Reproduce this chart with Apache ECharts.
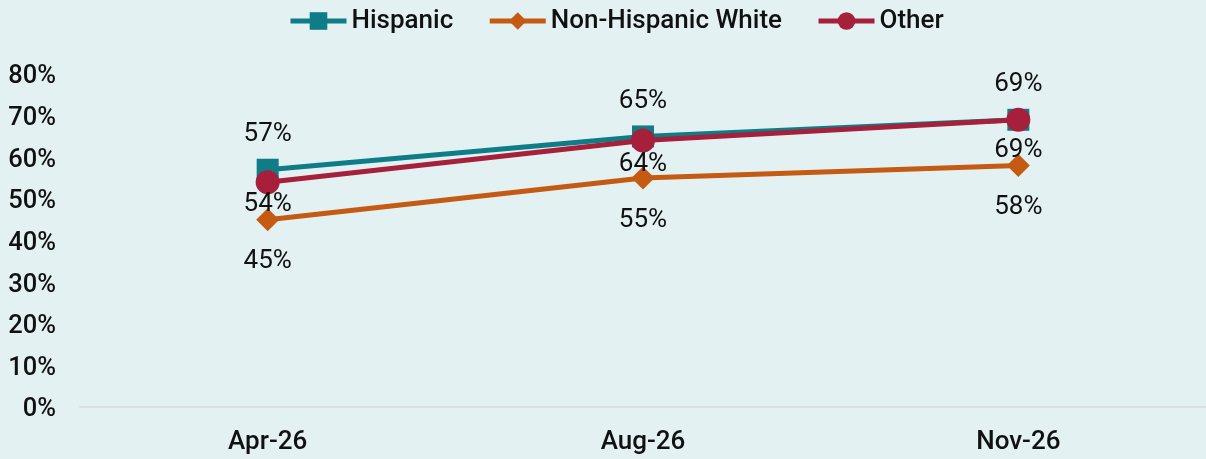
<!DOCTYPE html>
<html>
<head>
<meta charset="utf-8">
<script src="https://cdn.jsdelivr.net/npm/echarts@6/dist/echarts.min.js"></script>
<style>
  html, body { margin: 0; padding: 0; background: #e3f1f2; }
  #chart { width: 1206px; height: 459px; }
</style>
</head>
<body>
<div id="chart"></div>
<script>
// Survey waves and share (%) per group
const categories = ['Apr-26', 'Aug-26', 'Nov-26'];
const hispanic = [57, 65, 69];
const nonHispanicWhite = [45, 55, 58];
const other = [54, 64, 69];
const yTicks = [0, 10, 20, 30, 40, 50, 60, 70, 80];

// vertical nudge of each series' value labels (px, + is down)
const otherLabelDy = [22, 24, 31];

const chart = echarts.init(document.getElementById('chart'));

function lineSeries(name, data, color, symbol, size, dy) {
  return {
    name: name,
    type: 'line',
    data: data.map((v, i) => ({
      value: v,
      label: { offset: [0, Array.isArray(dy) ? dy[i] : dy] }
    })),
    symbol: symbol,
    symbolSize: size,
    lineStyle: { width: 5, color: color },
    itemStyle: { color: color },
    label: {
      show: true,
      position: 'inside',
      formatter: p => p.value + '%',
      fontFamily: 'Roboto',
      fontSize: 26,
      color: '#111'
    },
    emphasis: { disabled: true },
    animation: false
  };
}

chart.setOption({
  backgroundColor: '#e3f1f2',
  legend: {
    top: 3,
    left: 283,
    itemWidth: 56,
    itemHeight: 22,
    itemGap: 34,
    lineStyle: { width: 5 },
    textStyle: { fontFamily: 'Roboto', fontSize: 26, fontWeight: 500, color: '#111' },
    data: ['Hispanic', 'Non-Hispanic White', 'Other']
  },
  grid: { left: 80, right: 0, top: 74, bottom: 52 },
  xAxis: {
    type: 'category',
    data: categories,
    boundaryGap: true,
    axisLine: { show: true, lineStyle: { color: '#d9d9d9', width: 1.5 } },
    axisTick: { show: false },
    axisLabel: {
      margin: 22,
      fontFamily: 'Roboto',
      fontWeight: 500,
      fontSize: 26,
      color: '#111'
    }
  },
  yAxis: {
    type: 'value',
    min: yTicks[0],
    max: yTicks[yTicks.length - 1],
    interval: 10,
    splitLine: { show: false },
    axisLine: { show: false },
    axisTick: { show: false },
    axisLabel: {
      margin: 24,
      formatter: v => '{t|' + v + '%}',
      rich: {
        t: {
          padding: [6, 0, 0, 0],
          fontFamily: 'Roboto',
          fontWeight: 500,
          fontSize: 25.5,
          color: '#111'
        }
      }
    }
  },
  series: [
    lineSeries('Hispanic', hispanic, '#0f7d87', 'rect', 22, -35),
    lineSeries('Non-Hispanic White', nonHispanicWhite, '#c55a13', 'diamond', 23, 42),
    lineSeries('Other', other, '#a61f3b', 'circle', 24, otherLabelDy)
  ]
});
</script>
</body>
</html>
